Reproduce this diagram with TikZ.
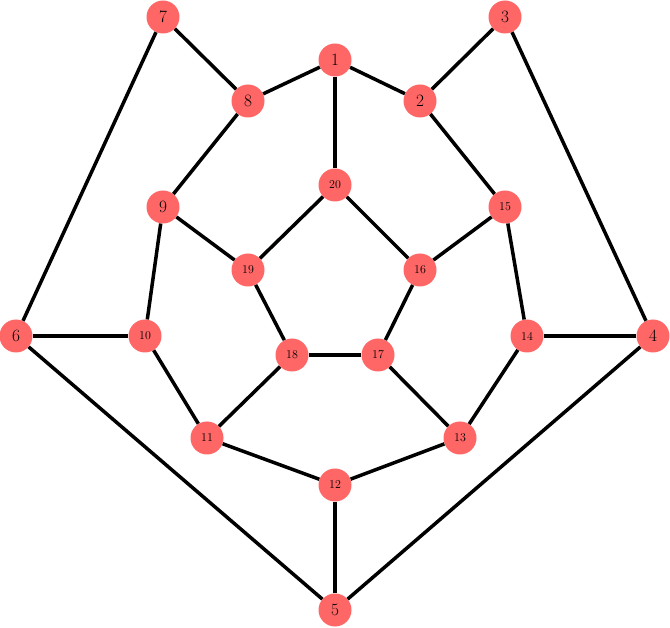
\documentclass[tikz,border=0pt]{standalone}
\begin{document}
\begin{tikzpicture}[x=1pt,y=-1pt,
  vtx/.style={circle,fill=red!60,draw=none,minimum size=33pt,inner sep=0pt,font=\LARGE},
  vsm/.style={vtx,font=\large},
  edge/.style={line width=3.5pt}]
\useasboundingbox (0,0) rectangle (670,628);
\node[vtx] (1) at (335,60) {1};
\node[vtx] (2) at (420,101) {2};
\node[vtx] (3) at (505,17) {3};
\node[vtx] (4) at (653,336) {4};
\node[vtx] (5) at (335,610) {5};
\node[vtx] (6) at (16,336) {6};
\node[vtx] (7) at (163,17) {7};
\node[vtx] (8) at (248,101) {8};
\node[vtx] (9) at (163,207) {9};
\node[vsm] (10) at (145,336) {10};
\node[vsm] (11) at (207,438) {11};
\node[vsm] (12) at (335,485) {12};
\node[vsm] (13) at (460,438) {13};
\node[vsm] (14) at (527,336) {14};
\node[vsm] (15) at (505,207) {15};
\node[vsm] (16) at (420,270) {16};
\node[vsm] (17) at (378,355) {17};
\node[vsm] (18) at (292,355) {18};
\node[vsm] (19) at (248,270) {19};
\node[vsm] (20) at (335,185) {20};
\foreach \a/\b in {1/2,1/8,1/20,2/3,2/15,3/4,4/5,4/14,5/6,5/12,6/7,6/10,7/8,8/9,9/10,9/19,10/11,11/12,11/18,12/13,13/14,13/17,14/15,15/16,16/17,16/20,17/18,18/19,19/20}
  \draw[edge] (\a) -- (\b);
\end{tikzpicture}
\end{document}
